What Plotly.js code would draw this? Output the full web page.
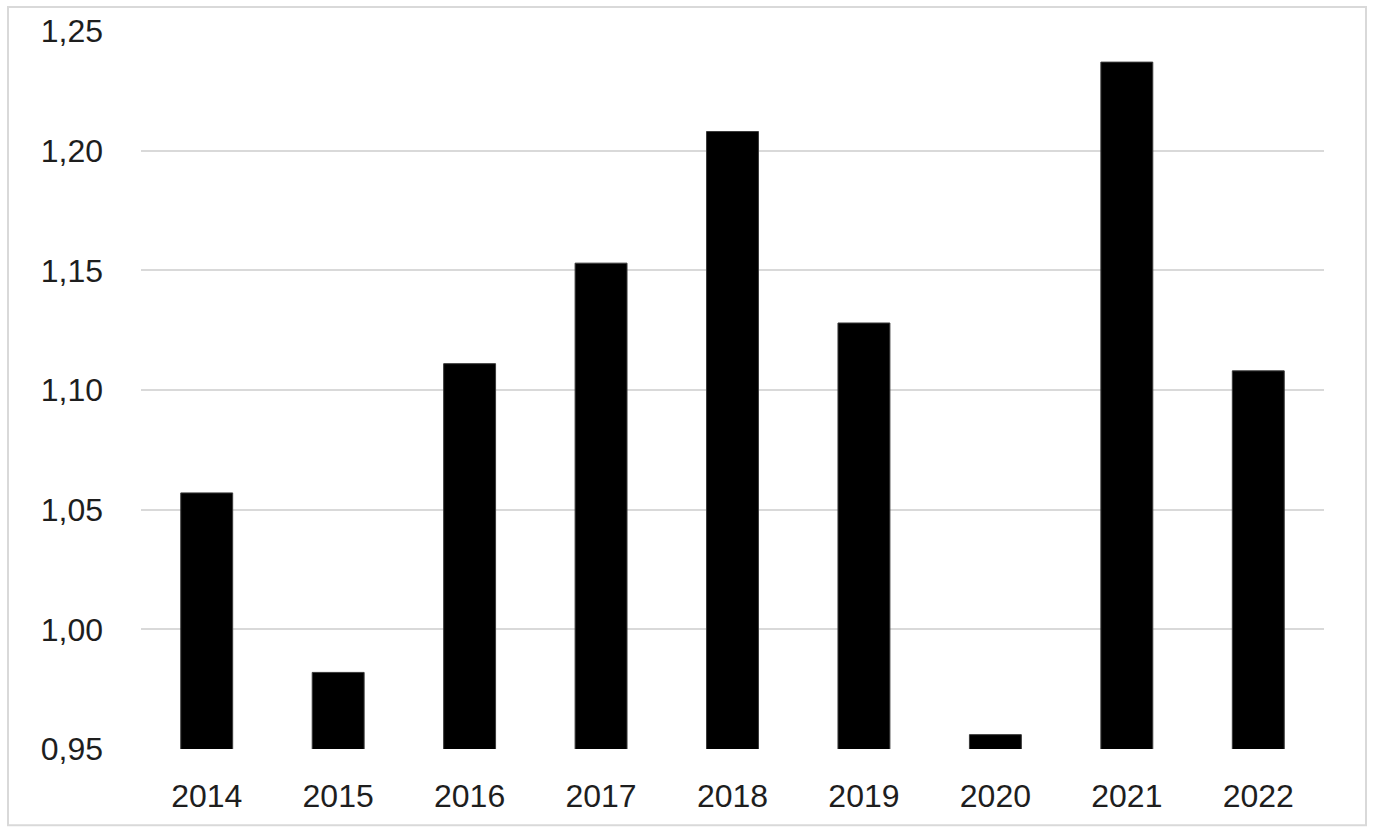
<!DOCTYPE html>
<html>
<head>
<meta charset="utf-8">
<script src="https://cdn.plot.ly/plotly-3.0.1.min.js"></script>
<style>
  html, body { margin: 0; padding: 0; background: #ffffff; }
  #chart { width: 1374px; height: 830px; }
</style>
</head>
<body>
<div id="chart"></div>
<script>
const years = ["2014", "2015", "2016", "2017", "2018", "2019", "2020", "2021", "2022"];
const values = [1.057, 0.982, 1.111, 1.153, 1.208, 1.128, 0.956, 1.237, 1.108];
const yTicks = [0.95, 1.00, 1.05, 1.10, 1.15, 1.20, 1.25];

const trace = {
  type: "bar",
  x: years,
  y: values,
  marker: { color: "#000000", line: { color: "#3a3a3a", width: 1 } },
  hoverinfo: "x+y"
};

const layout = {
  width: 1374,
  height: 830,
  margin: { l: 141, r: 50, t: 31, b: 81 },
  paper_bgcolor: "#ffffff",
  plot_bgcolor: "#ffffff",
  separators: ", ",
  showlegend: false,
  bargap: 0.605,
  font: { family: "Liberation Sans, Arial, sans-serif", size: 32, color: "#1e1e1e" },
  xaxis: {
    type: "category",
    showgrid: false,
    zeroline: false,
    showline: false,
    ticks: "",
    ticklabelstandoff: 25,
    tickfont: { size: 32, color: "#1e1e1e" }
  },
  yaxis: {
    range: [0.95, 1.25],
    tickvals: yTicks,
    tickformat: ".2f",
    showgrid: true,
    gridcolor: "#d9d9d9",
    gridwidth: 2,
    zeroline: false,
    showline: false,
    ticks: "",
    ticklabelstandoff: 37,
    tickfont: { size: 32, color: "#1e1e1e" }
  },
  shapes: [{
    type: "rect",
    xref: "paper", yref: "paper",
    x0: (8 - 141) / 1183, x1: (1366 - 141) / 1183,
    y0: (748.7 - 825) / 717.7, y1: 1 + (31 - 7) / 717.7,
    line: { color: "#d9d9d9", width: 2 },
    fillcolor: "rgba(0,0,0,0)",
    layer: "below"
  }]
};

Plotly.newPlot("chart", [trace], layout, { displayModeBar: false, staticPlot: true });
</script>
</body>
</html>
